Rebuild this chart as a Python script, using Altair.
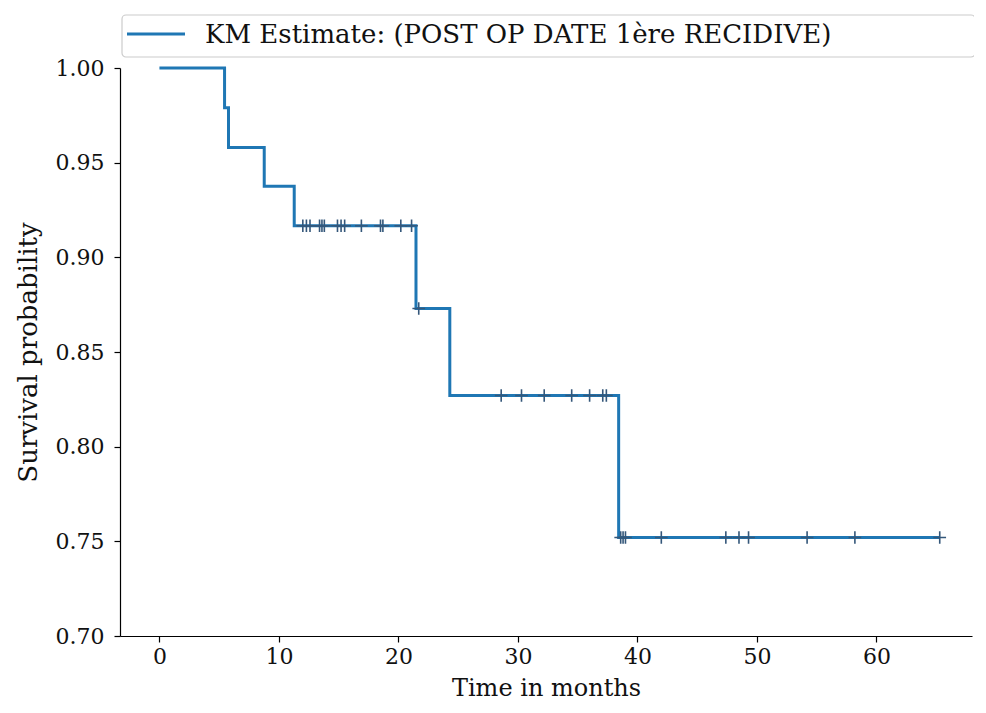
import altair as alt
import pandas as pd

# Kaplan-Meier step function (time in months, survival probability)
step_times = [0.0, 5.45, 5.78, 8.77, 11.28, 21.47, 24.30, 38.43, 65.3]
step_surv = [1.0, 0.979, 0.958, 0.9375, 0.9167, 0.873, 0.827, 0.752, 0.752]

# Censored observations
censor_times = [12.0, 12.3, 12.6, 13.4, 13.6, 13.8, 14.9, 15.2, 15.5, 16.9, 18.5, 18.7, 20.2, 21.1,
                21.7,
                28.6, 30.3, 32.2, 34.5, 36.0, 37.1, 37.4,
                38.6, 38.8, 39.0, 42.0, 47.4, 48.5, 49.3, 54.2, 58.2, 65.3]
censor_surv = [0.9167] * 14 + [0.873] + [0.827] * 7 + [0.752] * 10

x_ticks = [0, 10, 20, 30, 40, 50, 60]
y_ticks = [0.70, 0.75, 0.80, 0.85, 0.90, 0.95, 1.00]
legend_label = "KM Estimate: (POST OP DATE 1ère RECIDIVE)"

FONT = "DejaVu Serif"
BLUE = "#1f77b4"

steps = pd.DataFrame({"time": step_times, "surv": step_surv})
cens = pd.DataFrame({"time": censor_times, "surv": censor_surv})
leg = pd.DataFrame({"label": [legend_label]})

x_scale = alt.Scale(domain=[-3.3, 68.0], nice=False, zero=False)
y_scale = alt.Scale(domain=[0.70, 1.00], nice=False, zero=False)

x_axis = alt.Axis(values=x_ticks, title="Time in months", format="d",
                  titleY=59, titleBaseline="alphabetic")
y_axis = alt.Axis(values=y_ticks, title="Survival probability", format=".2f",
                  titleX=-92, titleBaseline="middle")

line = alt.Chart(steps).mark_line(interpolate="step-after", color=BLUE, strokeWidth=3).encode(
    x=alt.X("time:Q", scale=x_scale, axis=x_axis),
    y=alt.Y("surv:Q", scale=y_scale, axis=y_axis),
)

marks = alt.Chart(cens).mark_point(
    shape="M-1,0L1,0M0,-1L0,1", filled=False, color="#34577a", strokeWidth=1.6, size=160, opacity=1
).encode(
    x=alt.X("time:Q", scale=x_scale),
    y=alt.Y("surv:Q", scale=y_scale),
)

leg_box = alt.Chart(leg).mark_rect(fill="white", stroke="#cccccc", strokeWidth=1.2, cornerRadius=4).encode(
    x=alt.value(2), x2=alt.value(855), y=alt.value(-53), y2=alt.value(-11)
)
leg_line = alt.Chart(leg).mark_rule(color=BLUE, strokeWidth=3).encode(
    x=alt.value(7), x2=alt.value(65), y=alt.value(-34)
)
leg_text = alt.Chart(leg).mark_text(align="left", baseline="middle", font=FONT, fontSize=26,
                                     color="#111111").encode(
    x=alt.value(85), y=alt.value(-33), text="label:N"
)

chart = alt.layer(line, marks, leg_box, leg_line, leg_text).properties(
    width=852, height=568,
    autosize=alt.AutoSizeParams(type="none"),
    padding={"left": 112, "top": 60, "right": 2, "bottom": 65},
).configure_view(stroke=None).configure_axis(
    grid=False, domainColor="black", domainWidth=1.2, tickColor="black", tickWidth=1.2,
    tickSize=6, labelFont=FONT, labelFontSize=22, labelColor="#111111",
    titleFont=FONT, titleFontWeight="normal", titleColor="#111111",
).configure_axisX(labelPadding=4, titleFontSize=24).configure_axisY(labelPadding=10, titleFontSize=26)

chart.save("out.html", embed_options={"renderer": "svg", "actions": False})
